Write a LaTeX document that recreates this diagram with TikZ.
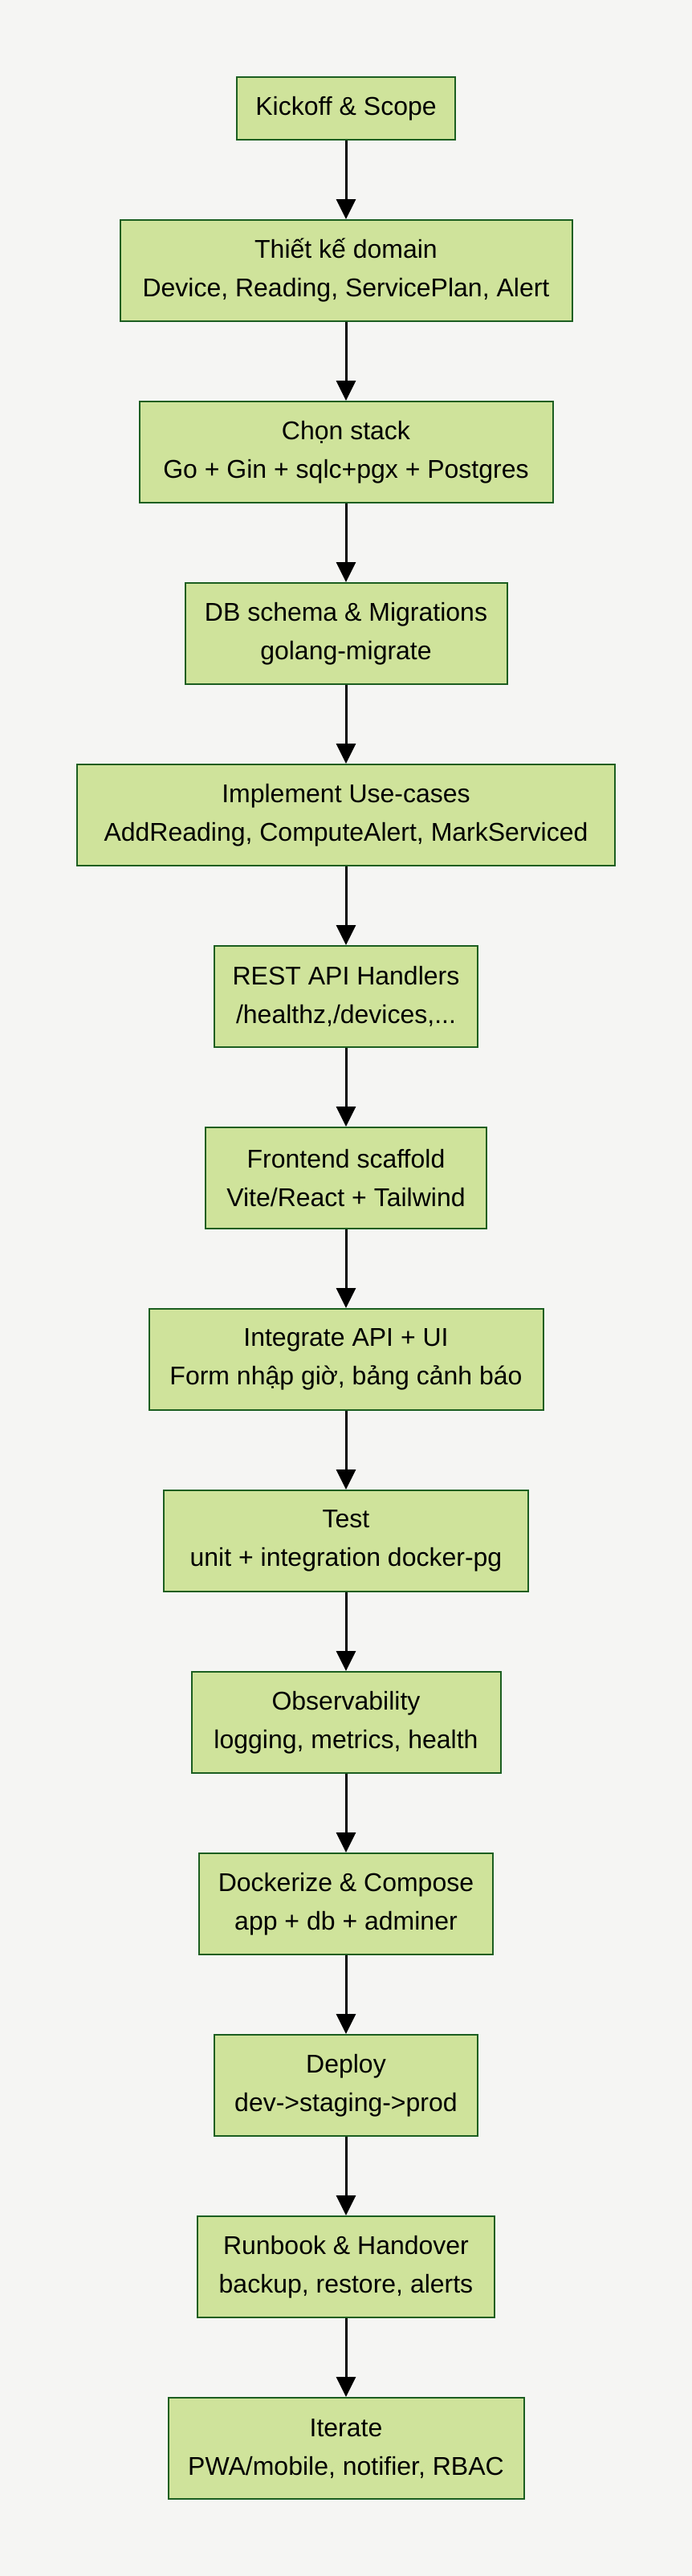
\documentclass[tikz,border=0pt]{standalone}
\usepackage{fontspec}
\setmainfont{Liberation Sans}
\usetikzlibrary{arrows.meta}

\definecolor{bgcol}{HTML}{F5F5F3}
\definecolor{stepfill}{HTML}{CFE39B}
\definecolor{stepline}{HTML}{1B5E20}

\begin{document}
\begin{tikzpicture}[x=1pt,y=1pt,
    stepbox/.style={draw=stepline, fill=stepfill, line width=1pt, align=center,
        inner xsep=0pt, inner ysep=0pt, minimum height=63pt,
        font=\fontsize{16}{24}\selectfont},
    flow/.style={line width=1.5pt, -{Triangle[width=12pt,length=12.5pt]}}]
\fill[bgcol] (0,0) rectangle (431,-1604);
\useasboundingbox (0,0) rectangle (431,-1604);

\node[stepbox, minimum height=39pt, minimum width=136pt] (kickoff) at (215.5,-67.5) {Kickoff \& Scope};
\node[stepbox, minimum width=281.5pt] (domain) at (215.5,-168.5) {Thiết kế domain\\Device, Reading, ServicePlan, Alert};
\node[stepbox, minimum width=257.5pt] (stack) at (215.5,-281.5) {Chọn stack\\Go + Gin + sqlc+pgx + Postgres};
\node[stepbox, minimum width=200.5pt] (schema) at (215.5,-394.5) {DB schema \& Migrations\\golang-migrate};
\node[stepbox, minimum width=335pt] (usecases) at (215.5,-507.5) {Implement Use-cases\\AddReading, ComputeAlert, MarkServiced};
\node[stepbox, minimum width=164pt] (rest) at (215.5,-620.5) {REST API Handlers\\/healthz,/devices,...};
\node[stepbox, minimum width=175pt] (frontend) at (215.5,-733.5) {Frontend scaffold\\Vite/React + Tailwind};
\node[stepbox, minimum width=245.5pt] (integrate) at (215.5,-846.5) {Integrate API + UI\\Form nhập giờ, bảng cảnh báo};
\node[stepbox, minimum width=227pt] (test) at (215.5,-959.5) {Test\\unit + integration docker-pg};
\node[stepbox, minimum width=192.5pt] (observ) at (215.5,-1072.5) {Observability\\logging, metrics, health};
\node[stepbox, minimum width=183pt] (docker) at (215.5,-1185.5) {Dockerize \& Compose\\app + db + adminer};
\node[stepbox, minimum width=164pt] (deploy) at (215.5,-1298.5) {Deploy\\dev->staging->prod};
\node[stepbox, minimum width=185pt] (runbook) at (215.5,-1411.5) {Runbook \& Handover\\backup, restore, alerts};
\node[stepbox, minimum width=221.5pt] (iterate) at (215.5,-1524.5) {Iterate\\PWA/mobile, notifier, RBAC};

% arrows between the steps
\foreach \a/\b in {kickoff/domain, domain/stack, stack/schema, schema/usecases,
    usecases/rest, rest/frontend, frontend/integrate, integrate/test, test/observ,
    observ/docker, docker/deploy, deploy/runbook, runbook/iterate}
    \draw[flow] (\a) -- (\b);
\end{tikzpicture}
\end{document}
